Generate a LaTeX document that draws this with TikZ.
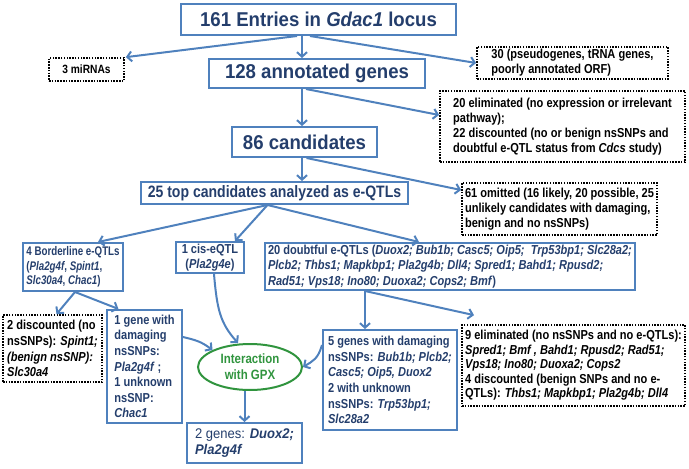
\documentclass[tikz,border=0pt]{standalone}
\usepackage{fontspec}
\setmainfont{Liberation Sans}
\newfontfamily\widefont[FakeStretch=0.93]{Liberation Sans}
\newfontfamily\midfont[FakeStretch=0.85]{Liberation Sans}
\newfontfamily\slimfont[FakeStretch=0.78]{Liberation Sans}
\usetikzlibrary{arrows.meta,shapes.geometric}
\definecolor{boxblue}{RGB}{79,129,189}
\definecolor{navy}{RGB}{36,62,108}
\definecolor{gpxgreen}{RGB}{48,148,62}
\tikzset{
  bluebox/.style={draw=boxblue,line width=2pt,text=navy,inner xsep=3pt,inner ysep=1pt,align=left},
  dotbox/.style={draw=black,line width=1.7pt,dash pattern=on 1.5pt off 1.3pt,text=black,inner xsep=2pt,inner ysep=1pt,align=left,font=\midfont\bfseries\fontsize{13}{15}\selectfont},
  bigtxt/.style={font=\widefont\bfseries\fontsize{20}{24}\selectfont},
  smalltxt/.style={font=\midfont\bfseries\fontsize{13}{15.6}\selectfont},
  arr/.style={draw=boxblue,line width=2pt,-{Straight Barb[length=4.5pt,width=10pt]}}
}
\begin{document}
\begin{tikzpicture}[x=1pt,y=-1pt]
\useasboundingbox (0,0) rectangle (689,469);
\coordinate (spine) at (302,0);
\node[bluebox,bigtxt,minimum width=275,minimum height=31] (entries) at (318.5,19.5) {161 Entries in \textit{Gdac1} locus};
\node[dotbox,font=\midfont\bfseries\fontsize{12}{14}\selectfont,minimum width=75,minimum height=23] (mirna) at (86.5,69.5) {3 miRNAs};
\node[bluebox,bigtxt,minimum width=216,minimum height=29] (annot) at (317,73.5) {128 annotated genes};
\node[dotbox,minimum width=191,minimum height=32] (pseudo) at (572.5,63) {30 (pseudogenes, tRNA genes,\\poorly annotated ORF)};
\node[dotbox,minimum width=245,minimum height=71] (elim) at (562.5,126.5) {20 eliminated (no expression or irrelevant\\pathway);\\22 discounted (no or benign nsSNPs and\\doubtful e-QTL status from \textit{Cdcs} study)};
\node[bluebox,bigtxt,minimum width=145,minimum height=30] (cands) at (304.5,142) {86 candidates};
\node[bluebox,font=\midfont\bfseries\fontsize{16.5}{19}\selectfont,minimum width=267,minimum height=22] (top) at (274.5,193) {25 top candidates analyzed as e-QTLs};
\node[dotbox,minimum width=195,minimum height=52] (omit) at (559.5,209) {61 omitted (16 likely, 20 possible, 25\\unlikely candidates with damaging,\\benign and no nsSNPs)};
\node[bluebox,font=\slimfont\bfseries\fontsize{12.5}{14.7}\selectfont,minimum width=94,minimum height=48] (border) at (73,267) {4 Borderline e-QTLs\\(\textit{Pla2g4f}, \textit{Spint1},\\\textit{Slc30a4}, \textit{Chac1})};
\node[bluebox,smalltxt,align=center,minimum width=68,minimum height=31] (cis) at (210,257.5) {1 cis-eQTL\\(\textit{Pla2g4e})};
\node[bluebox,smalltxt,minimum width=366,minimum height=47] (doubt) at (450,266.5) {20 doubtful e-QTLs (\textit{Duox2; Bub1b; Casc5; Oip5;\ \ Trp53bp1; Slc28a2;}\\\textit{Plcb2; Thbs1; Mapkbp1; Pla2g4b; Dll4; Spred1; Bahd1; Rpusd2;}\\\textit{Rad51; Vps18; Ino80; Duoxa2; Cops2; Bmf})};
\node[dotbox,font=\midfont\bfseries\fontsize{13}{15.7}\selectfont,minimum width=99,minimum height=67] (disc) at (52.5,348.5) {2 discounted (no\\nsSNPs): \textit{Spint1;}\\\textit{(benign nsSNP):}\\\textit{Slc30a4}};
\node[bluebox,smalltxt,minimum width=75,minimum height=113] (dmg) at (144.5,366.5) {1 gene with\\damaging\\nsSNPs:\\\textit{Pla2g4f} ;\\1 unknown\\nsSNP:\\\textit{Chac1}};
\node[ellipse,draw=gpxgreen,line width=2pt,text=gpxgreen,inner sep=0pt,align=center,font=\midfont\bfseries\fontsize{13.5}{16}\selectfont,minimum width=104,minimum height=46] (gpx) at (250,367) {Interaction\\with GPX};
\node[bluebox,font=\widefont\fontsize{14}{16}\selectfont,minimum width=115,minimum height=40] (final) at (244.5,443) {2 genes: \textbf{\textit{Duox2;}}\\\textbf{\textit{Pla2g4f}}};
\node[bluebox,smalltxt,minimum width=134,minimum height=100] (five) at (390,380) {5 genes with damaging\\nsSNPs: \textit{Bub1b; Plcb2;}\\\textit{Casc5; Oip5, Duox2}\\2 with unknown\\nsSNPs: \textit{Trp53bp1;}\\\textit{Slc28a2}};
\node[dotbox,font=\midfont\bfseries\fontsize{13}{14.5}\selectfont,minimum width=223,minimum height=81] (nine) at (573.5,365.5) {9 eliminated (no nsSNPs and no e-QTLs):\\\textit{Spred1; Bmf , Bahd1; Rpusd2; Rad51;}\\\textit{Vps18; Ino80; Duoxa2; Cops2}\\4 discounted (benign SNPs and no e-\\QTLs): \textit{Thbs1; Mapkbp1; Pla2g4b; Dll4}};
\coordinate (nineIn) at ([xshift=-99.5,yshift=9]nine.north);
\draw[arr] (entries.south -| spine) -- (annot.north -| spine);
\draw[arr] ([xshift=-21.5]entries.south) -- ([xshift=1]mirna.north east);
\draw[arr] ([xshift=-8.5]entries.south) -- (pseudo.west);
\draw[arr] (annot.south -| spine) -- (cands.north -| spine);
\draw[arr] ([xshift=-11]annot.south) -- ([yshift=11.5]elim.west);
\draw[arr] (cands.south -| spine) -- (top.north -| spine);
\draw[arr] ([xshift=2]cands.south) -- ([yshift=19]omit.west);
\draw[arr] ([xshift=-7]top.south) -- ([xshift=25]border.north);
\draw[arr] ([xshift=-7]top.south) -- ([xshift=25]cis.north);
\draw[arr] ([xshift=-7]top.south) -- ([xshift=-31]doubt.north);
\draw[arr] ([xshift=2]border.south) -- ([xshift=4]disc.north);
\draw[arr] ([xshift=2]border.south) -- ([xshift=-26]dmg.north);
\draw[arr] ([xshift=4]cis.south) .. controls +(3,35) and +(-18,-20) .. ([xshift=-12]gpx.north);
\draw[arr] ([yshift=29.5]dmg.east) .. controls +(12,3) and +(-12,-9) .. (gpx.north west);
\draw[arr] ([yshift=35]five.west) .. controls +(-4,14) and +(10,-6) .. (gpx.east);
\draw[arr] (gpx.south -| final.north) -- (final.north);
\draw[arr] ([xshift=-85]doubt.south) -- ([xshift=-25]five.north);
\draw[arr] ([xshift=-85]doubt.south) -- (nineIn);
\end{tikzpicture}
\end{document}
